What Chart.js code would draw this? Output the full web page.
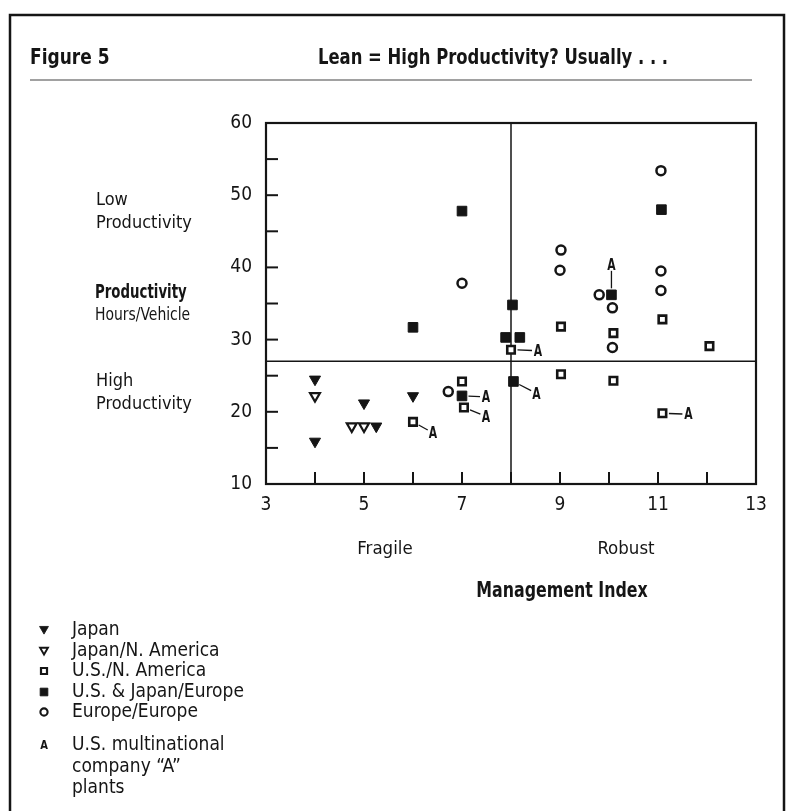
<!DOCTYPE html>
<html><head><meta charset="utf-8">
<script src="https://cdn.jsdelivr.net/npm/chart.js@4.4.0/dist/chart.umd.min.js"></script>
<style>html,body{margin:0;padding:0;background:#fff}canvas{display:block}</style>
</head><body>
<canvas id="c" width="789" height="811"></canvas>
<script>
// ---- data ----
const japan = [{x:4,y:24.5},{x:4,y:15.9},{x:5,y:21.2},{x:5.25,y:18.0},{x:6,y:22.2}];
const japanNA = [{x:4,y:22.2},{x:4.75,y:18.0},{x:5,y:18.0}];
const usNA = [{x:6,y:18.6},{x:7,y:24.2},{x:7.04,y:20.6},{x:8,y:28.6},{x:9.02,y:31.8},{x:9.02,y:25.2},{x:10.09,y:30.9},{x:10.09,y:24.3},{x:11.09,y:32.8},{x:11.09,y:19.8},{x:12.05,y:29.1}];
const usJapanEurope = [{x:7,y:47.8},{x:6,y:31.7},{x:8.03,y:34.8},{x:7.89,y:30.3},{x:8.18,y:30.3},{x:8.05,y:24.2},{x:7,y:22.2},{x:10.05,y:36.2},{x:11.07,y:48.0}];
const europe = [{x:7,y:37.8},{x:6.72,y:22.8},{x:9.02,y:42.4},{x:9,y:39.6},{x:9.8,y:36.2},{x:10.07,y:34.4},{x:10.07,y:28.9},{x:11.06,y:53.4},{x:11.06,y:39.5},{x:11.06,y:36.8}];
const aPlants = [{x:6,y:18.6},{x:7,y:22.2},{x:7.04,y:20.6},{x:8,y:28.6},{x:8.05,y:24.2},{x:10.05,y:36.2},{x:11.09,y:19.8}];
const seriesLabels = ['Japan','Japan/N. America','U.S./N. America','U.S. & Japan/Europe','Europe/Europe'];
const xTickLabels = [3,5,7,9,11,13];
const yTickLabels = [10,20,30,40,50,60];
const quadrantX = 8, quadrantY = 27;
const figureLabel = 'Figure 5';
const titleText = 'Lean = High Productivity? Usually . . .';
const xTitle = 'Management Index';
const xCategories = ['Fragile','Robust'];
const yTitle = ['Productivity','Hours/Vehicle'];
const lowLabel = ['Low','Productivity'];
const highLabel = ['High','Productivity'];
const aLabel = 'A';
const aLegend = ['U.S. multinational','company \u201cA\u201d','plants'];

// ---- style ----
const FAMILY = '"DejaVu Sans Condensed", "DejaVu Sans", sans-serif';
const INK = '#151515';
function txt(ctx,s,x,y,w,size,align,sx){
  ctx.save();
  ctx.font = w+' '+size+'px '+FAMILY; ctx.textAlign=align; ctx.textBaseline='middle';
  ctx.translate(x,y); ctx.scale(sx,1); ctx.fillText(s,0,0);
  ctx.restore();
}

const deco = {
  id:'deco',
  beforeDatasetsDraw(chart){
    const {ctx, chartArea:a, scales:{x,y}} = chart;
    ctx.save();
    ctx.strokeStyle=INK; ctx.lineCap='butt';
    const L=(x1,y1,x2,y2)=>{ctx.beginPath();ctx.moveTo(x1,y1);ctx.lineTo(x2,y2);ctx.stroke();};
    ctx.lineWidth=1.5;
    const qx=x.getPixelForValue(quadrantX), qy=y.getPixelForValue(quadrantY);
    L(qx,a.top,qx,a.bottom); L(a.left,qy,a.right,qy);
    ctx.lineWidth=2;
    y.ticks.forEach(t=>{const p=y.getPixelForValue(t.value); L(a.left,p,a.left+12,p);});
    x.ticks.forEach(t=>{const p=x.getPixelForValue(t.value); L(p,a.bottom,p,a.bottom-12);});
    ctx.lineWidth=2.2;
    ctx.strokeRect(a.left,a.top,a.right-a.left,a.bottom-a.top);
    ctx.restore();
  },
  afterDatasetsDraw(chart){
    const {ctx, scales:{x,y}} = chart;
    const offs=[[20,11],[24,1],[22,9],[27,1],[23,12],[0,-30],[26,1]];
    ctx.save();
    ctx.strokeStyle=INK; ctx.fillStyle=INK; ctx.lineWidth=1.3;
    aPlants.forEach((p,i)=>{
      const px=x.getPixelForValue(p.x), py=y.getPixelForValue(p.y);
      const [dx,dy]=offs[i]; const len=Math.hypot(dx,dy); const ux=dx/len, uy=dy/len;
      ctx.beginPath(); ctx.moveTo(px+ux*6.5,py+uy*6.5); ctx.lineTo(px+ux*(len-6),py+uy*(len-6)); ctx.stroke();
      txt(ctx,aLabel,px+dx,py+dy+1,'bold',16,'center',0.75);
    });
    ctx.restore();
  },
  afterDraw(chart){
    const {ctx}=chart;
    ctx.save();
    ctx.fillStyle=INK; ctx.strokeStyle=INK;
    // outer frame
    ctx.lineWidth=2.5; ctx.strokeRect(10,15,774,830);
    // header
    txt(ctx,figureLabel,30,58,'bold',22,'left',0.86);
    txt(ctx,titleText,318,58,'bold',22,'left',0.83);
    ctx.strokeStyle='#444'; ctx.lineWidth=1.2; ctx.beginPath(); ctx.moveTo(30,80); ctx.lineTo(752,80); ctx.stroke();
    // y side labels
    txt(ctx,lowLabel[0],96,200,'normal',18,'left',1);
    txt(ctx,lowLabel[1],96,223,'normal',18,'left',1);
    txt(ctx,highLabel[0],96,381,'normal',18,'left',1);
    txt(ctx,highLabel[1],96,404,'normal',18,'left',1);
    txt(ctx,yTitle[0],95,293,'bold',19.5,'left',0.76);
    txt(ctx,yTitle[1],95,315,'normal',18,'left',0.86);
    // x side labels
    txt(ctx,xCategories[0],385,549,'normal',18.5,'center',1);
    txt(ctx,xCategories[1],626,549,'normal',18.5,'center',1);
    txt(ctx,xTitle,562,591,'bold',22,'center',0.8);
    // legend
    const rows=[630,651,671,692,712];
    chart.data.datasets.forEach((ds,i)=>{
      const o={pointStyle:ds.pointStyle,rotation:ds.pointRotation||0,radius:ds.pointRadius*0.8,borderWidth:ds.pointBorderWidth*0.85};
      ctx.fillStyle=ds.pointBackgroundColor; ctx.strokeStyle=ds.pointBorderColor; ctx.lineWidth=o.borderWidth;
      Chart.helpers.drawPoint(ctx,o,44,rows[i]+(ds.pointStyle==='triangle'?-1:0));
      ctx.fillStyle=INK;
      txt(ctx,ds.label,72,rows[i],'normal',19,'left',1);
    });
    txt(ctx,aLabel,44,746,'bold',13,'center',0.85);
    txt(ctx,aLegend[0],72,745,'normal',19,'left',1);
    txt(ctx,aLegend[1],72,767,'normal',19,'left',1);
    txt(ctx,aLegend[2],72,788,'normal',19,'left',1);
    ctx.restore();
  }
};

const mk=(i,data,style,rot,r,bg,bw)=>({label:seriesLabels[i],data,pointStyle:style,pointRotation:rot,pointRadius:r,pointHoverRadius:r,pointBackgroundColor:bg,pointBorderColor:INK,pointBorderWidth:bw,showLine:false});

new Chart(document.getElementById('c'),{
  type:'scatter',
  data:{datasets:[
    mk(0,japan,'triangle',180,6.4,INK,1),
    mk(1,japanNA,'triangle',180,5.7,'#fff',2.2),
    mk(2,usNA,'rect',0,5.3,'#fff',2.6),
    mk(3,usJapanEurope,'rect',0,6.8,INK,1),
    mk(4,europe,'circle',0,4.5,'#fff',2.5)
  ]},
  options:{
    responsive:false, animation:false, devicePixelRatio:1,
    layout:{padding:{left:266-50,right:789-756,top:123,bottom:811-484-50}},
    plugins:{legend:{display:false},tooltip:{enabled:false}},
    events:[],
    scales:{
      x:{type:'linear',min:3,max:13,
        afterFit(s){s.height=50;},
        grid:{display:false,drawTicks:false},border:{display:false},
        ticks:{stepSize:1,padding:10,color:INK,font:{family:FAMILY,size:19},
          callback:v=>xTickLabels.includes(v)?String(v):''}},
      y:{type:'linear',min:10,max:60,
        afterFit(s){s.width=50;},
        grid:{display:false,drawTicks:false},border:{display:false},
        ticks:{stepSize:5,padding:14,color:INK,font:{family:FAMILY,size:19},
          callback:v=>yTickLabels.includes(v)?String(v):''}}
    }
  },
  plugins:[deco]
});
</script>
</body></html>
